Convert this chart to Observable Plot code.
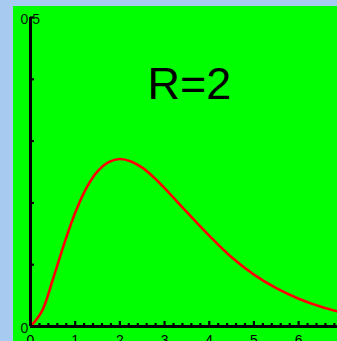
<!DOCTYPE html>
<html>
<head>
<meta charset="utf-8">
<script src="https://cdn.jsdelivr.net/npm/d3@7"></script>
<script src="https://cdn.jsdelivr.net/npm/@observablehq/plot@0.6"></script>
<style>
  html, body { margin: 0; padding: 0; background: #a6caf0; width: 337px; height: 341px; overflow: hidden; }
  #chart { position: absolute; left: 13px; top: 6px; }
</style>
</head>
<body>
<div id="chart"></div>
<script>
// Curve points
const xs = [0, 0.25, 0.5, 0.75, 1, 1.25, 1.5, 1.75, 2, 2.25, 2.5, 2.75, 3, 3.5, 4, 4.5, 5, 5.5, 6, 6.5, 7];
const ys = [0, 0.024, 0.076, 0.133, 0.184, 0.224, 0.251, 0.266, 0.271, 0.267, 0.257, 0.242, 0.224, 0.185, 0.147, 0.112, 0.084, 0.062, 0.045, 0.032, 0.022];
const xMajorTicks = [0, 1, 2, 3, 4, 5, 6];
const xMinorTicks = [0.2,0.4,0.6,0.8,1.2,1.4,1.6,1.8,2.2,2.4,2.6,2.8,3.2,3.4,3.6,3.8,4.2,4.4,4.6,4.8,5.2,5.4,5.6,5.8,6.2,6.4,6.6,6.8];
const yTicks = [0.1, 0.2, 0.3, 0.4, 0.5];
const yLabels = [0, 0.5];
const title = "R=2";

const curve = xs.map((x, i) => ({x, y: ys[i]}));

const plot = Plot.plot({
  width: 324,
  height: 335,
  marginLeft: 17,
  marginRight: 0,
  marginTop: 11,
  marginBottom: 15,
  style: {background: "#00ff00", fontFamily: "'Liberation Sans Narrow', 'Liberation Sans', Arial, sans-serif", overflow: "visible"},
  x: {domain: [0, 6.87], label: null},
  y: {domain: [0, 0.5], label: null},
  marks: [
    Plot.line(curve, {x: "x", y: "y", stroke: "#ff0000", strokeWidth: 2.6, curve: "catmull-rom", clip: true}),
    Plot.axisX(xMinorTicks, {tickSize: -3, strokeWidth: 2.2, tickFormat: () => "", stroke: "black", label: null}),
    Plot.axisX(xMajorTicks, {tickSize: -5, strokeWidth: 2.2, tickPadding: 14, fontSize: 14, stroke: "black", fill: "black", label: null}),
    Plot.axisY(yTicks, {tickSize: -4, strokeWidth: 2.2, tickFormat: () => "", stroke: "black", label: null}),
    Plot.text(yLabels, {x: 0, y: d => d, text: d => String(d), dx: -10, dy: 2, textAnchor: "start", fontSize: 14, fill: "#002200"}),
    Plot.ruleX([0], {stroke: "black", strokeWidth: 3}),
    Plot.ruleY([0], {stroke: "black", strokeWidth: 3}),
    Plot.text([title], {frameAnchor: "top-left", dx: 159, dy: 67, textAnchor: "middle", lineAnchor: "middle", fontSize: 45, fontFamily: "'Liberation Sans', Arial, sans-serif", fill: "black"})
  ]
});
document.getElementById("chart").appendChild(plot);
</script>
</body>
</html>
